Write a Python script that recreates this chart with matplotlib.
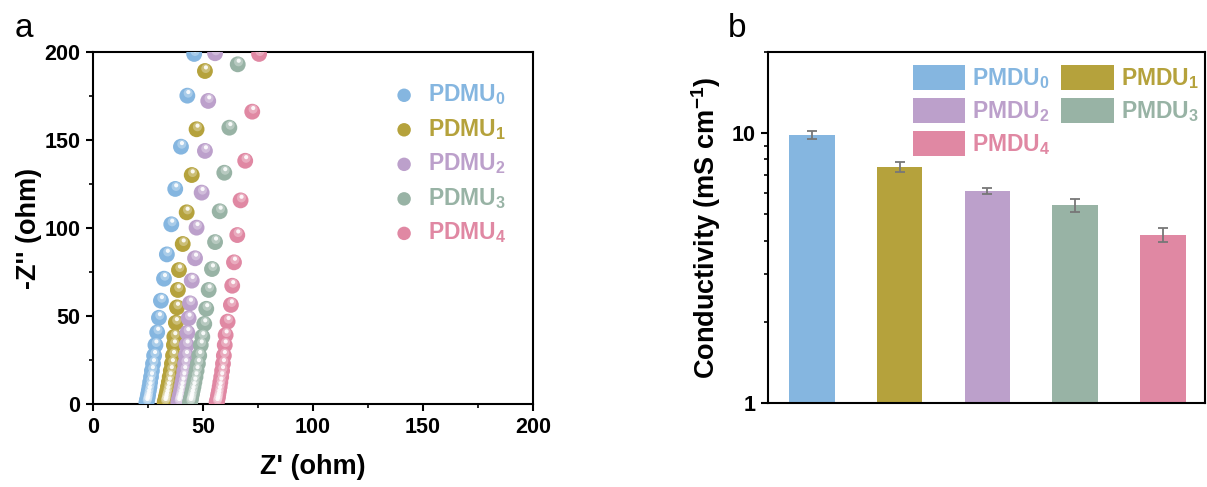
import numpy as np
import matplotlib
matplotlib.use("Agg")
import matplotlib.pyplot as plt
import matplotlib.transforms as mtransforms
from matplotlib.ticker import MultipleLocator, LogLocator, NullFormatter, FixedLocator

plt.rcParams['font.family'] = ['Liberation Sans', 'DejaVu Sans']
plt.rcParams['mathtext.fontset'] = 'custom'
plt.rcParams['mathtext.rm'] = 'Liberation Sans:bold'
plt.rcParams['mathtext.it'] = 'Liberation Sans:bold'
plt.rcParams['mathtext.bf'] = 'Liberation Sans:bold'
plt.rcParams['mathtext.default'] = 'rm'

colors = ['#85b6e0', '#b5a23c', '#bca0cb', '#98b3a5', '#e088a3']

# Nyquist data (Z', -Z'')
low_y = [0.8, 1.7, 2.8, 4.1, 5.7, 7.6, 9.8, 12.4, 15.4, 18.9, 22.9, 27.5, 33.5]

z0_re = [24.3, 24.5, 24.7, 24.9, 25.1, 25.4, 25.7, 26.0, 26.4, 26.8, 27.3, 27.8, 28.4,
         29.2, 30.0, 30.9, 32.3, 33.6, 35.6, 37.4, 40.0, 42.9, 46.0]
z0_im = low_y + [40.7, 49.0, 58.7, 71.2, 85.0, 102.1, 122.2, 146.2, 175.2, 198.9]

z1_re = [32.6, 32.8, 33.0, 33.2, 33.5, 33.8, 34.1, 34.5, 34.9, 35.4, 35.9, 36.4, 36.8,
         37.0, 37.7, 38.2, 38.6, 39.1, 40.8, 42.6, 44.9, 47.1, 50.9]
z1_im = low_y + [38.2, 46.2, 54.9, 64.8, 76.1, 90.9, 108.9, 130.1, 156.1, 189.2]

z2_re = [38.8, 39.0, 39.2, 39.4, 39.7, 40.0, 40.3, 40.7, 41.1, 41.5, 41.9, 42.3, 42.6,
         42.9, 43.5, 44.1, 44.9, 46.4, 47.1, 49.4, 50.9, 52.4, 55.5]
z2_im = low_y + [40.5, 48.7, 57.2, 70.1, 82.8, 100.2, 120.1, 143.8, 172.2, 199.3]

z3_re = [44.1, 44.3, 44.5, 44.7, 45.0, 45.3, 45.7, 46.1, 46.6, 47.1, 47.7, 48.3, 49.0,
         49.7, 50.6, 51.5, 52.6, 54.1, 55.5, 57.6, 59.7, 62.0, 65.8]
z3_im = low_y + [38.2, 45.5, 54.1, 64.8, 76.7, 92.0, 109.5, 131.4, 157.0, 193.0]

z4_re = [56.2, 56.4, 56.6, 56.8, 57.0, 57.3, 57.6, 57.9, 58.3, 58.7, 59.1, 59.5, 59.9,
         60.3, 61.2, 62.7, 63.3, 64.1, 65.6, 67.1, 69.2, 72.4, 75.5]
z4_im = low_y + [39.2, 46.8, 56.3, 67.2, 80.5, 96.0, 115.7, 138.2, 166.1, 198.9]

nyq_labels = ['PDMU$_0$', 'PDMU$_1$', 'PDMU$_2$', 'PDMU$_3$', 'PDMU$_4$']

# conductivity bars
bar_labels = ['PMDU$_0$', 'PMDU$_1$', 'PMDU$_2$', 'PMDU$_3$', 'PMDU$_4$']
sigma = [9.83, 7.51, 6.12, 5.42, 4.20]
sigma_err = [0.32, 0.30, 0.17, 0.30, 0.26]

fig = plt.figure(figsize=(12.07, 4.87), dpi=100)
ax1 = fig.add_axes([0.077, 0.1704, 0.3646, 0.7228])
ax2 = fig.add_axes([0.6363, 0.1725, 0.3620, 0.7207])

# ---- panel a ----
re_sets = [z0_re, z1_re, z2_re, z3_re, z4_re]
im_sets = [z0_im, z1_im, z2_im, z3_im, z4_im]
hl1 = mtransforms.ScaledTranslation(0.6 / 72, 1.8 / 72, fig.dpi_scale_trans)
hl2 = mtransforms.ScaledTranslation(0.7 / 72, 2.6 / 72, fig.dpi_scale_trans)
handles = []
for xs, ys, c, lab in zip(re_sets, im_sets, colors, nyq_labels):
    h = ax1.scatter(xs, ys, s=130, color=c, edgecolors='none', label=lab, zorder=3)
    ax1.scatter(xs, ys, s=42, color='white', alpha=0.3, edgecolors='none',
                transform=ax1.transData + hl1, zorder=3)
    ax1.scatter(xs, ys, s=9, color='white', alpha=0.9, edgecolors='none',
                transform=ax1.transData + hl2, zorder=3)
    handles.append(h)

ax1.set_xlim(0, 200)
ax1.set_ylim(0, 200)
ax1.xaxis.set_major_locator(MultipleLocator(50))
ax1.yaxis.set_major_locator(MultipleLocator(50))
ax1.xaxis.set_minor_locator(MultipleLocator(25))
ax1.yaxis.set_minor_locator(MultipleLocator(25))
ax1.set_xlabel("Z' (ohm)", fontsize=19.5, fontweight='bold', labelpad=12)
ax1.set_ylabel("-Z'' (ohm)", fontsize=19.5, fontweight='bold', labelpad=2)

leg1 = ax1.legend(handles=handles, loc='upper left', bbox_to_anchor=(0.655, 0.94),
                  frameon=False, fontsize=16.5, handletextpad=0.45, labelspacing=0.42,
                  markerscale=0.85, borderaxespad=0, handlelength=1.2)
for t, c in zip(leg1.get_texts(), colors):
    t.set_color(c)
    t.set_fontweight('bold')

# ---- panel b ----
pos = np.arange(len(sigma))
bars = ax2.bar(pos, sigma, width=0.52, color=colors, edgecolor='none', zorder=2)
ax2.errorbar(pos, sigma, yerr=sigma_err, fmt='none', ecolor='#777777',
             elinewidth=1.3, capsize=3.5, capthick=1.3, zorder=3)
ax2.set_yscale('log')
ax2.set_ylim(1, 20)
ax2.set_xlim(-0.5, 4.48)
ax2.yaxis.set_major_locator(FixedLocator([1, 10]))
ax2.yaxis.set_major_formatter(plt.FuncFormatter(lambda v, p: '%g' % v))
ax2.yaxis.set_minor_locator(LogLocator(base=10, subs=np.arange(2, 10)))
ax2.yaxis.set_minor_formatter(NullFormatter())
ax2.set_xticks([])
ax2.set_ylabel('Conductivity (mS cm$^{-1}$)', fontsize=19.5, fontweight='bold', labelpad=6)

order = [0, 2, 4, 1, 3]
leg2 = ax2.legend([bars[i] for i in order], [bar_labels[i] for i in order],
                  ncol=2, loc='upper left', bbox_to_anchor=(0.31, 0.99),
                  frameon=False, fontsize=16.5, handlelength=2.3, handleheight=1.3,
                  handletextpad=0.3, labelspacing=0.3, columnspacing=0.45,
                  borderaxespad=0)
for t, i in zip(leg2.get_texts(), order):
    t.set_color(colors[i])
    t.set_fontweight('bold')

for ax in (ax1, ax2):
    for sp in ax.spines.values():
        sp.set_linewidth(1.5)
    ax.tick_params(which='major', direction='out', length=5, width=1.5,
                   labelsize=15.5, pad=4)
    ax.tick_params(which='minor', direction='out', length=3, width=1.2)
    for lbl in ax.get_xticklabels() + ax.get_yticklabels():
        lbl.set_fontweight('bold')
ax1.tick_params(which='both', top=False, right=False)
ax2.tick_params(which='both', top=False, right=False, bottom=False)

fig.text(0.012, 0.925, 'a', fontsize=24)
fig.text(0.603, 0.925, 'b', fontsize=24)

fig.savefig('out.png', dpi=100)
